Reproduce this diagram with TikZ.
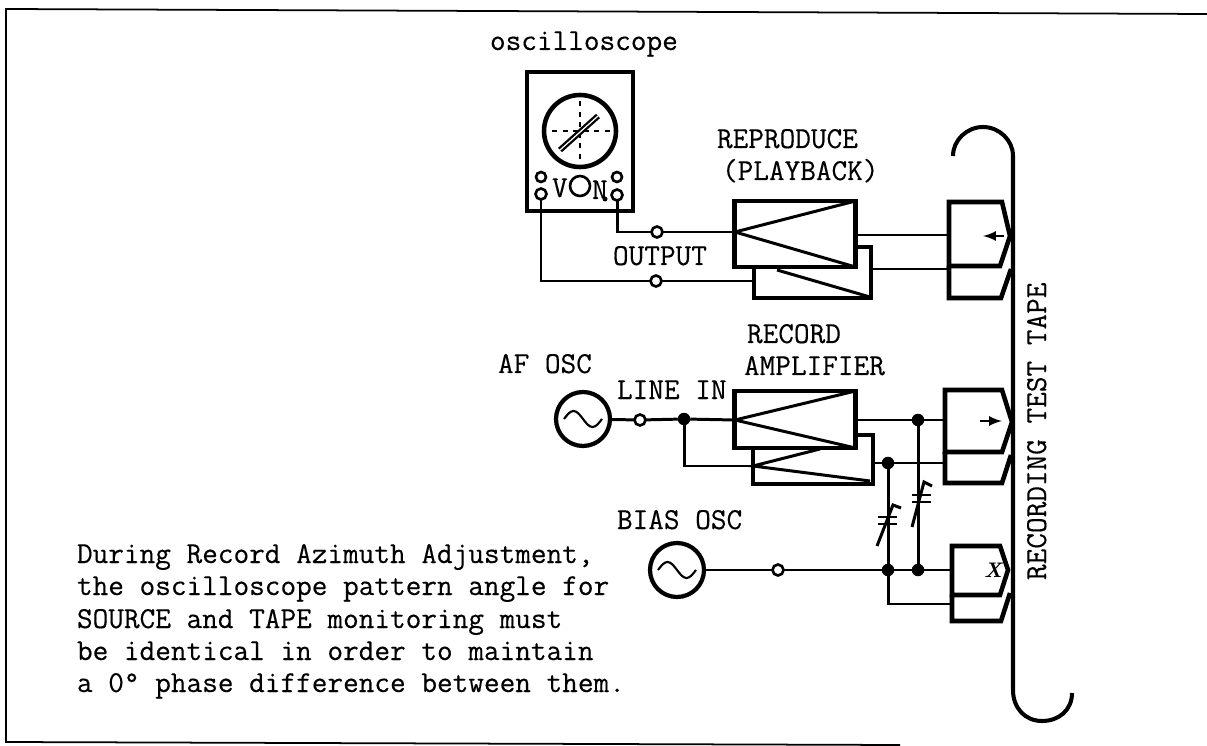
\documentclass[tikz,border=0pt]{standalone}
\usepackage{fontspec}
\usepackage{tikz}
\setmonofont[FakeBold=0.35]{Latin Modern Mono}

\tikzset{
    wire/.style={line width=1.7pt},
    heavy/.style={line width=2.6pt},
    terminal/.style={circle,draw,line width=1.5pt,fill=white,inner sep=0pt,outer sep=0pt,minimum size=0.22cm},
    junction/.style={circle,fill=black,inner sep=0pt,outer sep=0pt,minimum size=0.25cm},
    source/.style={circle,draw,line width=2.4pt,fill=white,inner sep=0pt,outer sep=0pt,minimum size=1.08cm},
    ampbox/.style={draw,line width=2.6pt,fill=white,inner sep=0pt,outer sep=0pt,minimum width=2.42cm},
    lbl/.style={anchor=base west,inner sep=0pt,outer sep=0pt,font=\fontsize{17.3}{20}\selectfont\ttfamily}
}

\begin{document}
\begin{tikzpicture}[x=0.02cm,y=-0.02cm]
    \useasboundingbox (0,0) rectangle (1207,746);

    % Page frame
    \draw[line width=1pt] (1207,14) -- (6,9) -- (6,742) -- (900,745);

    % Labels
    \node[lbl] (scopeLabel) at (490,50) {oscilloscope};
    \node[lbl] (playLabelA) at (717,148) {REPRODUCE};
    \node[lbl] (playLabelB) at (722,180) {(PLAYBACK)};
    \node[lbl] (outputLabel) at (613,265) {OUTPUT};
    \node[lbl] (recLabelA) at (747,343) {RECORD};
    \node[lbl] (recLabelB) at (744,375) {AMPLIFIER};
    \node[lbl] (afLabel) at (498,373) {AF OSC};
    \node[lbl] (lineLabel) at (617,399) {LINE IN};
    \node[lbl] (biasLabel) at (617,529) {BIAS OSC};
    \node[lbl,rotate=90] (tapeLabel) at (1046,580) {RECORDING TEST TAPE};
    \node[lbl] (noteA) at (77,563) {During Record Azimuth Adjustment,};
    \node[lbl] (noteB) at (77,595) {the oscilloscope pattern angle for};
    \node[lbl] (noteC) at (77,628) {SOURCE and TAPE monitoring must};
    \node[lbl] (noteD) at (77,660) {be identical in order to maintain};
    \node[lbl] (noteE) at (77,692) {a 0° phase difference between them.};

    % Oscilloscope
    \node[draw,heavy,inner sep=0pt,outer sep=0pt,minimum width=2.12cm,minimum height=2.78cm] (scopeBox) at (580,141.5) {};
    \node[circle,draw,heavy,inner sep=0pt,outer sep=0pt,minimum size=1.44cm] (scopeScreen) at (580,131) {};
    \draw[dashed,line width=0.8pt] (scopeScreen.center) +(0,-30) -- +(0,30);
    \draw[dashed,line width=0.8pt] (scopeScreen.center) +(-28,0) -- +(30,0);
    \draw[line width=1.3pt,black,double=white,double distance=0.7pt] (560,150) -- (598,116);
    \node[terminal,minimum size=0.2cm] (scopeA) at (541,177) {};
    \node[terminal,minimum size=0.2cm] (scopeB) at (617,177) {};
    \node[terminal] (scopeV) at (541,194) {};
    \node[terminal] (scopeH) at (617,195) {};
    \node[circle,draw,line width=1.5pt,inner sep=0pt,minimum size=0.4cm] (scopeKnob) at (580,186) {};
    \node[lbl] (scopeVLabel) at (552,197) {V};
    \node[lbl] (scopeHLabel) at (592,199) {N};
    \fill (605,199) circle (2.5);

    % Reproduce amplifier, lower half first
    \coordinate (playLowIn) at (754,281);
    \coordinate (playLowOut) at (871,269);
    \coordinate (playUpIn) at (735,232);
    \coordinate (playUpOut) at (856,235);
    \draw[heavy] (754,267) -- (754,298) -- (871,298) -- (871,247) -- (856,247);
    \draw[wire] (777,270) -- (870,297);
    \node[ampbox,minimum height=1.32cm] (playAmp) at (795,234) {};
    \draw[wire] (playUpIn) -- (playAmp.north east) -- (playAmp.south east) -- cycle;

    % Scope to reproduce amplifier
    \node[terminal] (outHigh) at (657,232) {};
    \node[terminal] (outLow) at (656,281) {};
    \draw[wire] (scopeH) |- (outHigh);
    \draw[wire] (outHigh) -- (playUpIn);
    \draw[wire] (scopeV) |- (outLow);
    \draw[wire] (outLow) -- (playLowIn);

    % Record amplifier, lower half first
    \coordinate (recLowIn) at (753,466);
    \coordinate (recLowOut) at (873,463);
    \coordinate (recUpIn) at (735,420);
    \coordinate (recUpOut) at (855,420);
    \draw[heavy] (753,448) -- (753,484) -- (873,484) -- (873,435) -- (855,435);
    \draw[wire] (820,449) -- (recLowIn) -- (870,481);
    \node[ampbox,minimum height=1.14cm] (recAmp) at (795,419.5) {};
    \draw[wire] (recUpIn) -- (recAmp.north east) -- (recAmp.south east) -- cycle;

    % Playback head
    \draw[heavy] (949,266) -- (949,202) -- (1002,202) -- (1010,236) -- (1000,266) -- cycle;
    \draw[heavy] (949,266) -- (949,298) -- (1001,298) -- (1011,269);
    \coordinate (playHeadUp) at (949,235);
    \coordinate (playHeadLow) at (949,269);
    \draw[wire] (playUpOut) -- (playHeadUp);
    \draw[wire] (playLowOut) -- (playHeadLow);
    \draw[-latex,line width=1.5pt] (1004,236) -- (983,236);

    % Record head
    \draw[heavy] (945,452) -- (945,390) -- (1002,390) -- (1012,422) -- (1002,452) -- cycle;
    \draw[heavy] (945,452) -- (945,483) -- (1002,483) -- (1011,455);
    \coordinate (recHeadUp) at (945,420);
    \coordinate (recHeadLow) at (945,463);
    \draw[-latex,line width=1.5pt] (980,421) -- (1002,421);

    % Bias head
    \draw[heavy] (952,595) -- (952,546) -- (1000,546) -- (1008,570) -- (1000,595) -- cycle;
    \draw[heavy] (952,595) -- (952,621) -- (1001,621) -- (1010,593);
    \coordinate (biasHeadUp) at (952,570);
    \coordinate (biasHeadLow) at (952,604);
    \node[inner sep=0pt,font=\fontsize{12}{12}\selectfont\bfseries\itshape] (biasMark) at (993,570) {X};

    % Tape
    \draw[line width=2.3pt] (953,156) .. controls (953,140) and (967,127) .. (983,127)
        .. controls (999,127) and (1013,140) .. (1013,156) -- (1013,690)
        .. controls (1013,708) and (1025,721) .. (1042,721)
        .. controls (1059,721) and (1072,710) .. (1072,693);

    % Sources
    \node[source] (afSource) at (583,419) {};
    \node[source] (biasSource) at (677,570) {};
    \draw[line width=1.2pt] ([shift={(-19,0)}]afSource.center) sin ++(9.5,-8) cos ++(9.5,8) sin ++(9.5,8) cos ++(9.5,-8);
    \draw[line width=1.2pt] ([shift={(-19,0)}]biasSource.center) sin ++(9.5,-8) cos ++(9.5,8) sin ++(9.5,8) cos ++(9.5,-8);

    % Record wiring
    \node[terminal] (lineIn) at (640,420) {};
    \node[junction] (lineNode) at (684,419) {};
    \node[junction] (recNodeUp) at (918,420) {};
    \node[junction] (recNodeLow) at (888,463) {};
    \draw[wire] (afSource) -- (lineIn);
    \draw[wire] (lineIn) -- (lineNode);
    \draw[wire] (lineNode) -- (recUpIn);
    \draw[wire] (lineNode) |- (recLowIn);
    \draw[wire] (recUpOut) -- (recNodeUp);
    \draw[wire] (recNodeUp) -- (recHeadUp);
    \draw[wire] (recLowOut) -- (recNodeLow);
    \draw[wire] (recNodeLow) -- (recHeadLow);

    % Bias wiring
    \node[terminal] (biasIn) at (778,570) {};
    \node[junction] (biasNodeA) at (888,570) {};
    \node[junction] (biasNodeB) at (918,570) {};
    \draw[wire] (biasSource) -- (biasIn);
    \draw[wire] (biasIn) -- (biasNodeA);
    \draw[wire] (biasNodeA) -- (biasNodeB);
    \draw[wire] (biasNodeB) -- (biasHeadUp);
    \draw[wire] (biasNodeA) |- (biasHeadLow);
    \draw[wire] (recNodeLow) -- (biasNodeA);
    \draw[wire] (recNodeUp) -- (biasNodeB);

    % Trimmer capacitors
    \draw[wire] (878,517) -- (897,517);
    \draw[wire] (878,524) -- (897,524);
    \draw[wire] (877,546) -- (893,505) -- (901,508);
    \draw[wire] (912,495) -- (931,495);
    \draw[wire] (912,502) -- (931,502);
    \draw[wire] (912,527) -- (924,482) -- (932,486);
\end{tikzpicture}
\end{document}
